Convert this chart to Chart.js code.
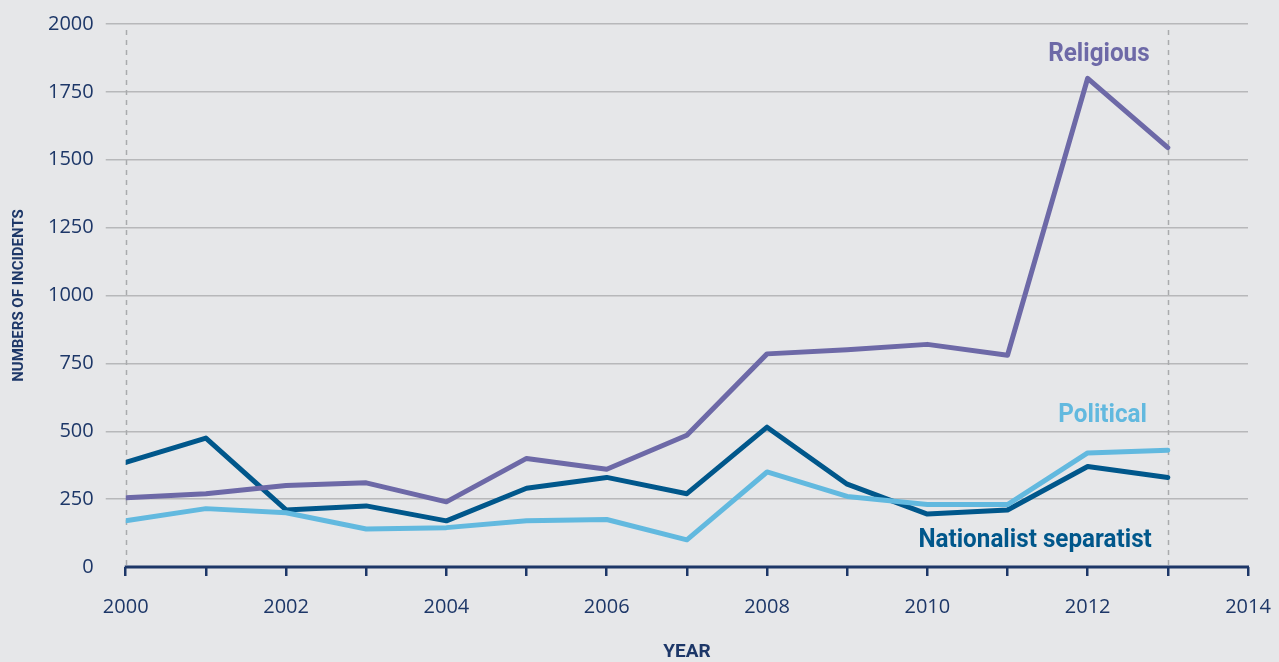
<!DOCTYPE html>
<html>
<head>
<meta charset="utf-8">
<script src="https://cdn.jsdelivr.net/npm/chart.js@4.4.1/dist/chart.umd.min.js"></script>
<style>
  html, body { margin: 0; padding: 0; background: #e6e7e9; }
  #wrap { width: 1279px; height: 662px; }
</style>
</head>
<body>
<div id="wrap"><canvas id="chart"></canvas></div>
<script>
// incidents per year, by type of motivation
const years = [2000, 2001, 2002, 2003, 2004, 2005, 2006, 2007, 2008, 2009, 2010, 2011, 2012, 2013];
const religious = [255, 270, 300, 310, 240, 400, 360, 485, 785, 800, 820, 780, 1800, 1545];
const nationalist = [385, 475, 210, 225, 170, 290, 330, 270, 515, 305, 195, 210, 370, 330];
const political = [170, 215, 200, 140, 145, 170, 175, 100, 350, 260, 230, 230, 420, 430];
const yTicks = [0, 250, 500, 750, 1000, 1250, 1500, 1750, 2000];
const markedYears = [2000, 2013];

const navy = '#1d3768';
const colReligious = '#6d69a7';
const colPolitical = '#62b9df';
const colNationalist = '#00578b';

function toPoints(vals) {
    return vals.map((v, i) => ({ x: years[i], y: v }));
}

// dashed markers, axis line and series names
const extras = {
    id: 'extras',
    beforeDatasetsDraw(chart) {
        const { ctx, chartArea, scales: { x } } = chart;
        ctx.save();
        ctx.strokeStyle = '#a9aaad';
        ctx.lineWidth = 1.5;
        ctx.setLineDash([5, 5]);
        markedYears.forEach(yr => {
            const px = Math.round(x.getPixelForValue(yr)) + 0.5;
            ctx.beginPath();
            ctx.moveTo(px, chartArea.top + 6);
            ctx.lineTo(px, chartArea.bottom);
            ctx.stroke();
        });
        ctx.restore();
    },
    afterDatasetsDraw(chart) {
        const { ctx, chartArea, scales: { x, y } } = chart;
        ctx.save();
        ctx.strokeStyle = navy;
        ctx.lineWidth = 3;
        ctx.beginPath();
        ctx.moveTo(chartArea.left - 1, chartArea.bottom);
        ctx.lineTo(chartArea.right + 1, chartArea.bottom);
        ctx.stroke();

        const label = (text, color, xv, yv, align) => {
            ctx.save();
            ctx.font = 'bold 25px Roboto';
            ctx.fillStyle = color;
            ctx.textBaseline = 'middle';
            ctx.textAlign = align;
            ctx.translate(x.getPixelForValue(xv), y.getPixelForValue(yv));
            ctx.scale(0.97, 1);
            ctx.fillText(text, 0, 0);
            ctx.restore();
        };
        label('Religious', colReligious, 2012.14, 1885, 'center');
        label('Political', colPolitical, 2012.74, 558, 'right');
        label('Nationalist separatist', colNationalist, 2012.8, 95, 'right');
        ctx.restore();
    }
};

const mk = (label, data, color) => ({
    label: label,
    data: toPoints(data),
    borderColor: color,
    borderWidth: 5,
    pointRadius: 0,
    borderJoinStyle: 'round',
    borderCapStyle: 'round',
    tension: 0
});

new Chart(document.getElementById('chart'), {
    type: 'line',
    data: {
        datasets: [
            mk('Political', political, colPolitical),
            mk('Religious', religious, colReligious),
            mk('Nationalist separatist', nationalist, colNationalist)
        ]
    },
    options: {
        responsive: true,
        maintainAspectRatio: false,
        animation: false,
        layout: { padding: { top: 5, right: 0, left: 10, bottom: 0 } },
        plugins: {
            legend: { display: false },
            tooltip: { enabled: false }
        },
        scales: {
            x: {
                type: 'linear',
                min: 2000,
                max: 2014,
                afterBuildTicks: s => { s.ticks = []; for (let v = 2000; v <= 2014; v++) s.ticks.push({ value: v }); },
                // keep the right margin fixed instead of sizing it from the last label
                afterFit: s => { s.paddingRight = 31; },
                grid: {
                    drawOnChartArea: false,
                    drawTicks: true,
                    tickLength: 9,
                    tickColor: navy,
                    lineWidth: 2.5
                },
                border: { display: false },
                ticks: {
                    color: navy,
                    font: { family: 'Open Sans', size: 20 },
                    padding: 19,
                    maxRotation: 0,
                    autoSkip: false,
                    callback: v => (v % 2 === 0 ? String(v) : '')
                },
                title: {
                    display: true,
                    text: 'YEAR',
                    color: navy,
                    font: { family: 'Roboto', size: 19, weight: 'bold', lineHeight: 1 },
                    padding: { top: 5, bottom: 0 }
                }
            },
            y: {
                min: 0,
                max: 2000,
                afterBuildTicks: s => { s.ticks = yTicks.map(v => ({ value: v })); },
                grid: {
                    color: c => (c.tick && c.tick.value === 0 ? 'rgba(0,0,0,0)' : '#b7b8ba'),
                    lineWidth: 1.5,
                    drawTicks: true,
                    tickLength: 20
                },
                border: { display: false },
                ticks: {
                    color: navy,
                    font: { family: 'Open Sans', size: 20 },
                    padding: 12,
                    callback: v => String(v)
                },
                title: {
                    display: true,
                    text: 'NUMBERS OF INCIDENTS',
                    color: navy,
                    font: { family: 'Roboto', size: 15, weight: 'bold' },
                    padding: { top: 0, bottom: 8 }
                }
            }
        }
    },
    plugins: [extras]
});
</script>
</body>
</html>
